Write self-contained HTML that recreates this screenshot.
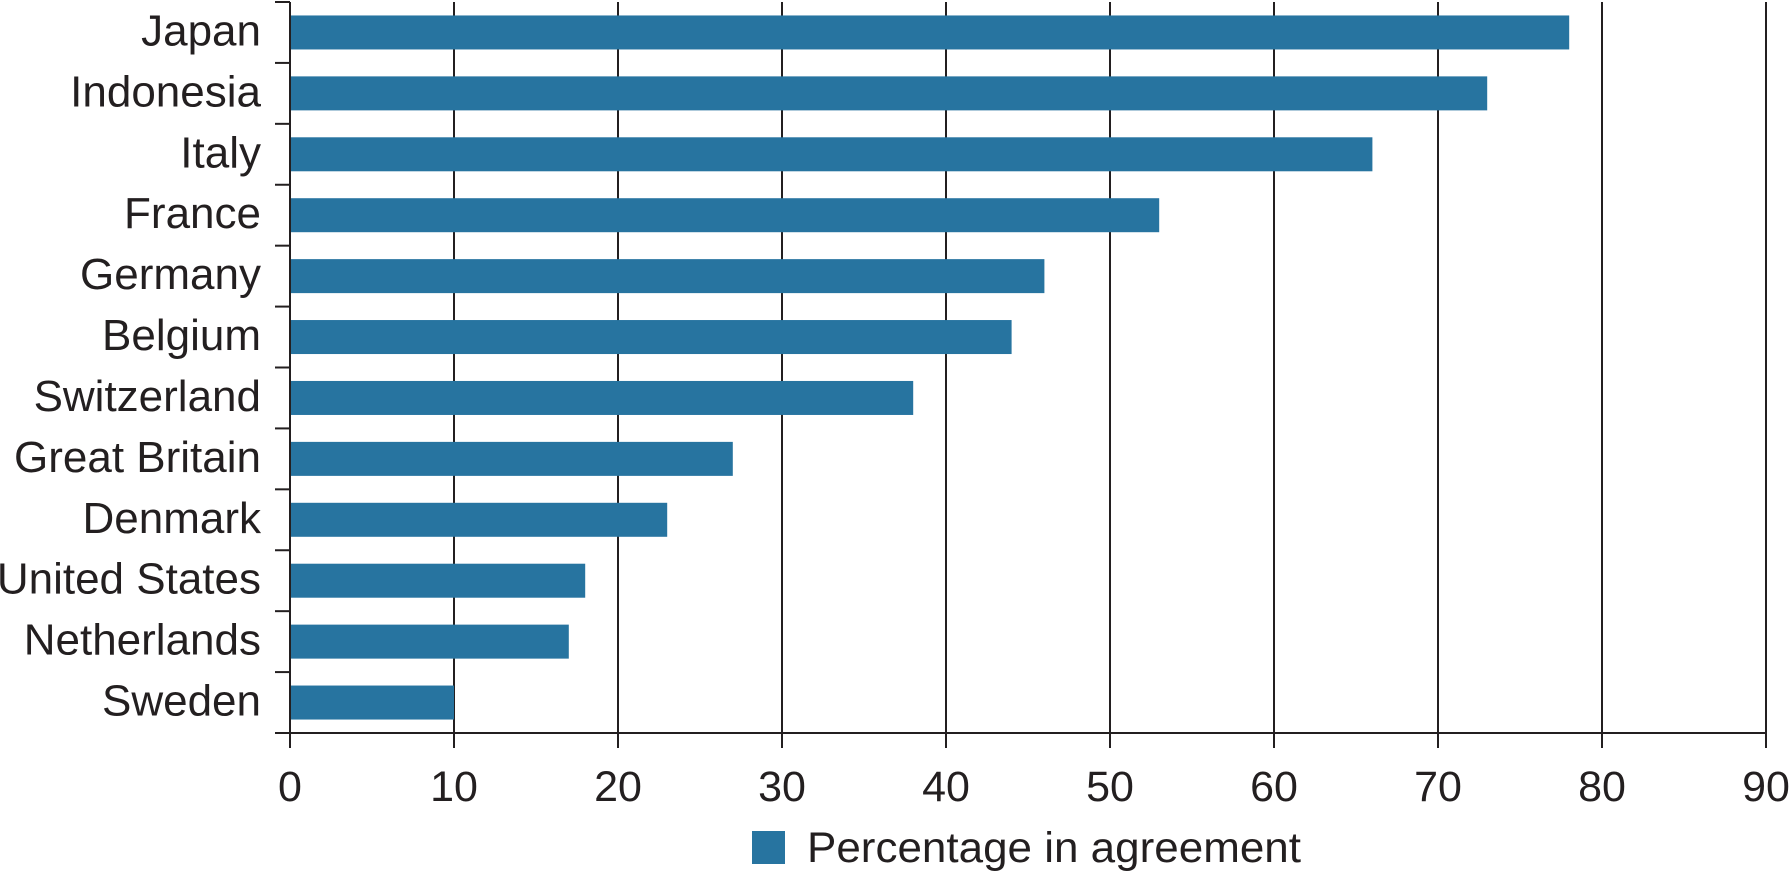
<!DOCTYPE html>
<html><head><meta charset="utf-8"><style>
body{margin:0;background:#fff;}
svg{display:block;font-family:"Liberation Sans",sans-serif;}
</style></head><body>
<svg id="chart" width="1790" height="879" viewBox="0 0 1790 879" xmlns="http://www.w3.org/2000/svg"></svg>
<script>
const categories=["Japan","Indonesia","Italy","France","Germany","Belgium","Switzerland","Great Britain","Denmark","United States","Netherlands","Sweden"];
const values=[78,73,66,53,46,44,38,27,23,18,17,10];
const xTicks=[0,10,20,30,40,50,60,70,80,90];
const legendLabel="Percentage in agreement";

const svg=document.getElementById('chart');
const NS="http://www.w3.org/2000/svg";
const X0=290,X1=1766,TOP=2,BASE=733;
const xMax=90;
const band=(BASE-TOP)/categories.length;
const x=v=>X0+(v/xMax)*(X1-X0);
const y=i=>TOP+i*band;
function mk(tag,attrs,parent){const e=document.createElementNS(NS,tag);for(const k in attrs)e.setAttribute(k,attrs[k]);(parent||svg).appendChild(e);return e;}
const ink="#231f20";

const grid=mk('g',{});


xTicks.forEach(t=>{
  if(t===0)return;
  const l=mk('line',{x1:x(t),x2:x(t),y1:TOP,y2:BASE+15,stroke:ink,'stroke-width':2},grid);
  
  
});

const bars=mk('g',{});


categories.forEach((c,i)=>{
  const bh=34;
  const r=mk('rect',{x:x(0),y:y(i)+band/2-bh/2,width:x(values[i])-x(0),height:bh,fill:"#2774a0"},bars);
  
  
  const t=mk('text',{x:261,y:y(i)+band/2+13,'text-anchor':'end','font-size':44,fill:ink},svg);
  t.textContent=c;
  
  
});

const axes=mk('g',{});


mk('line',{x1:X0,x2:X0,y1:TOP,y2:BASE+15,stroke:ink,'stroke-width':2},axes);
mk('line',{x1:X0,x2:X1,y1:BASE,y2:BASE,stroke:ink,'stroke-width':2},axes);
for(let i=0;i<=categories.length;i++){
  mk('line',{x1:X0-15,x2:X0,y1:y(i),y2:y(i),stroke:ink,'stroke-width':2},axes);
}
xTicks.forEach(t=>{
  const tl=mk('text',{x:x(t),y:801,'text-anchor':'middle','font-size':43,fill:ink},svg);
  tl.textContent=t;
  
  
});

const leg=mk('g',{});


mk('rect',{x:752,y:831,width:33,height:33,fill:"#2774a0"},leg);
const lt=mk('text',{x:807,y:862,'font-size':43,fill:ink,textLength:494,lengthAdjust:'spacingAndGlyphs'},leg);
lt.textContent=legendLabel;
</script>
</body></html>
